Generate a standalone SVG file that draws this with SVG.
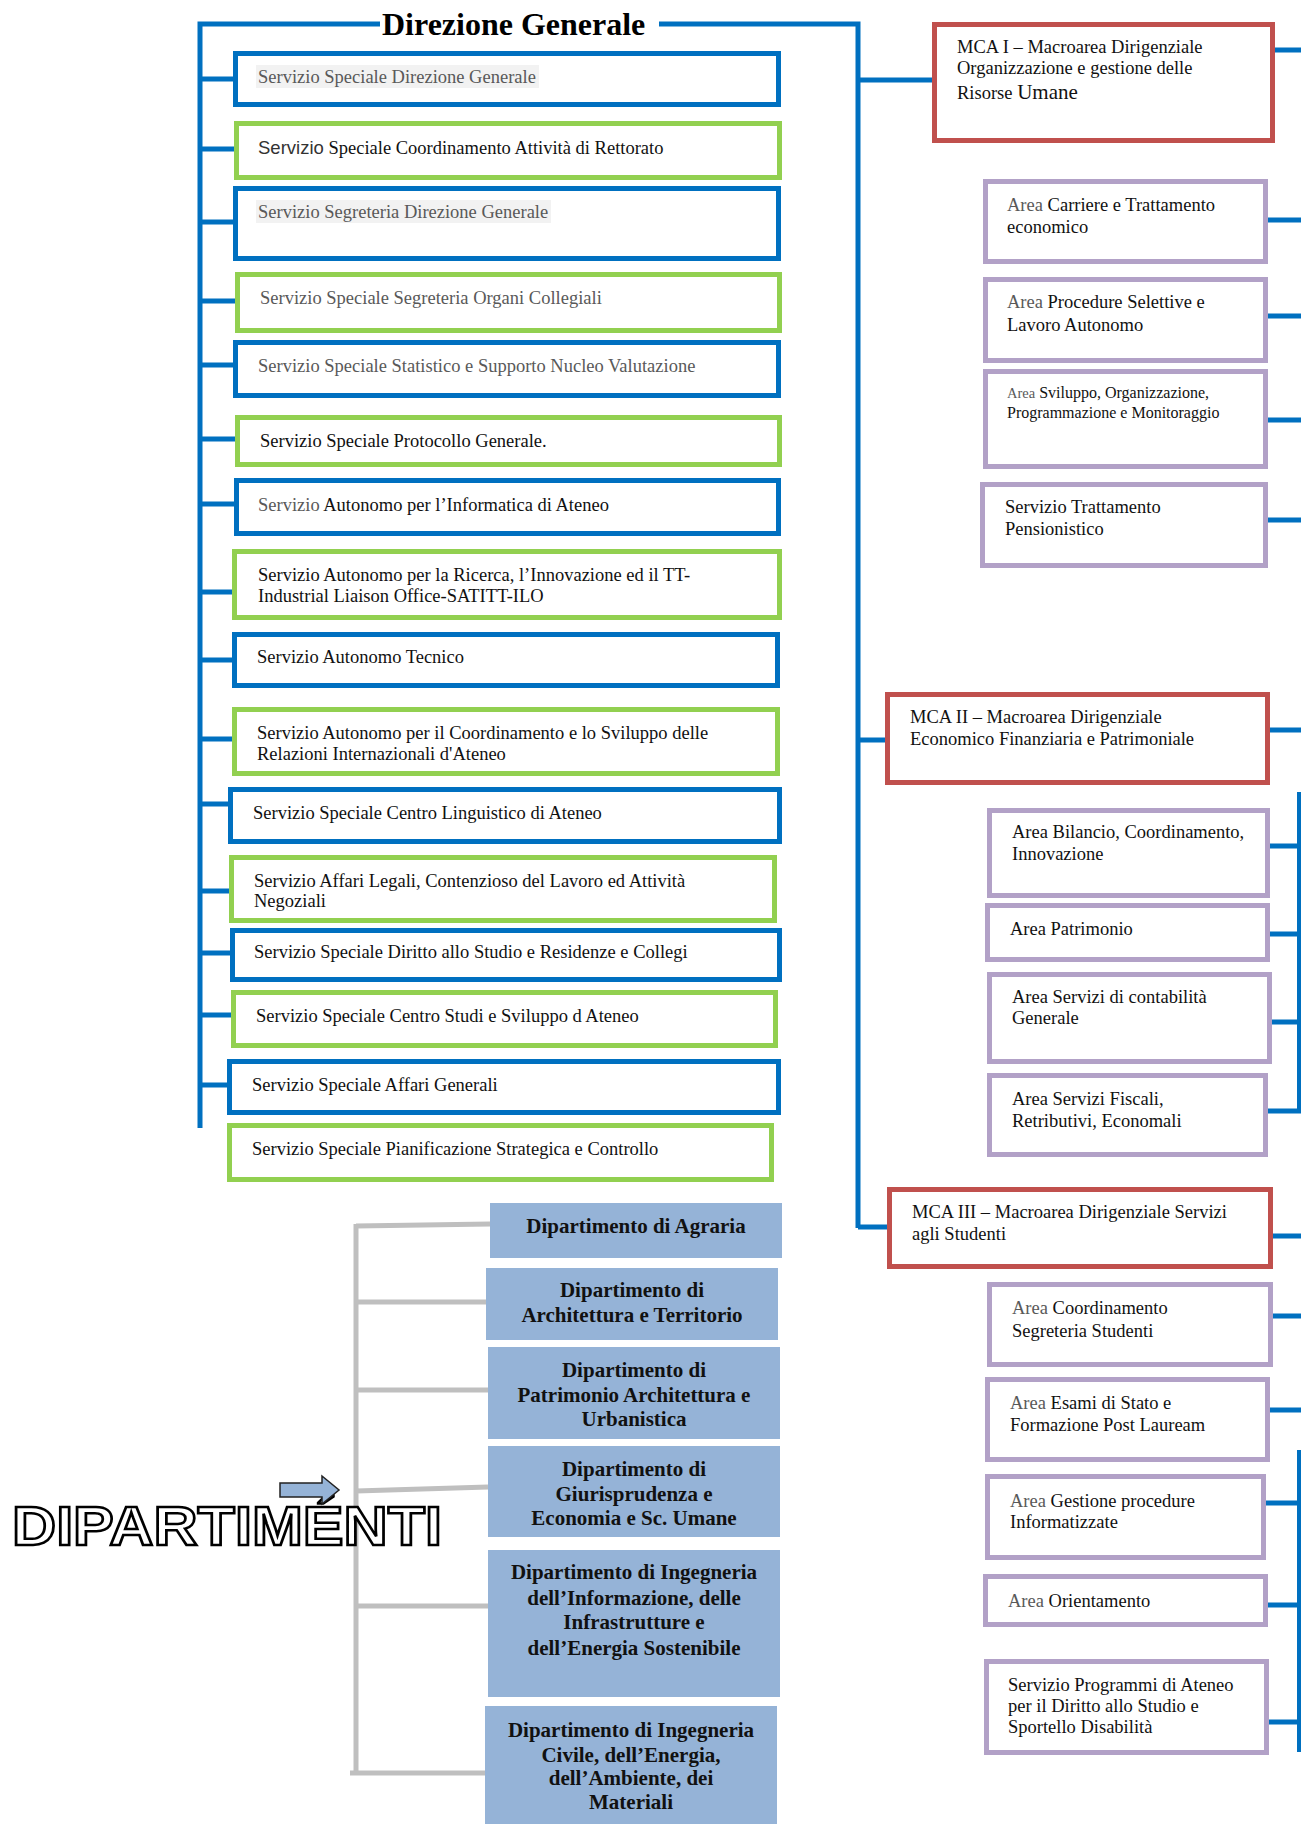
<svg xmlns="http://www.w3.org/2000/svg" width="1301" height="1824" viewBox="0 0 1301 1824">
<style>
.bx{fill:#fff;stroke-width:5}
.b{stroke:#0070c0}.g{stroke:#92d050}.r{stroke:#c0504d}.p{stroke:#b2a1c7}
.d{fill:#95b3d7}
.t{font-family:"Liberation Serif","Times New Roman",serif;font-size:18.5px;fill:#111}
.gr{fill:#595959}
.sans{font-family:"Liberation Sans",Arial,sans-serif;font-size:18.5px;fill:#333}
.dt{font-family:"Liberation Serif","Times New Roman",serif;font-weight:bold;font-size:21px;fill:#111;text-anchor:middle}
.c{stroke:#0070c0;stroke-width:5;fill:none}
.cv{stroke:#0070c0;stroke-width:4;fill:none}
.cg{stroke:#bfbfbf;stroke-width:5;fill:none}
.hl{fill:#f2f2f2}
</style>

<g id="connectors">
  <path class="c" d="M200,1128 V24 H380 M659,24 H858 V1228"/>
  <path class="c" d="M200,79 H233 M200,149 H234 M200,222 H233 M200,301 H235 M200,365 H233 M200,439 H235 M200,504 H234 M200,592 H232 M200,660 H232 M202,739 H232 M200,804 H228 M200,891 H229 M200,953 H230 M200,1015 H231 M200,1085 H227"/>
  <path class="c" d="M858,80 H932 M858,740 H885 M858,1227 H887"/>
  <path class="c" d="M1272,50 H1301 M1268,220 H1301 M1268,316 H1301 M1268,420 H1301 M1268,520 H1301"/>
  <path class="c" d="M1270,730 H1301 M1270,846 H1301 M1270,934 H1301 M1272,1022 H1301 M1268,1111 H1301"/>
  <path class="c" d="M1273,1236 H1301 M1273,1316 H1301 M1270,1410 H1301 M1266,1503 H1301 M1268,1605 H1301 M1269,1722 H1301"/>
  <path class="cv" d="M1299,792 V1113 M1299,1450 V1752"/>
  <path class="cg" d="M356,1224 V1773 M356,1226 L490,1224 M356,1302 H486 M356,1390 H488 M356,1491 L488,1487 M356,1606 H488 M350,1773 H485"/>
</g>

<g id="title">
  <text x="382" y="35" style="font-family:'Liberation Serif','Times New Roman',serif;font-weight:bold;font-size:32px;fill:#000">Direzione Generale</text>
</g>

<g id="s1"><rect class="bx b" x="235.5" y="53.5" width="543" height="51"/><rect class="hl" x="256" y="65" width="283" height="23"/><text class="t gr" x="258" y="83">Servizio Speciale Direzione Generale</text></g>
<g id="s2"><rect class="bx g" x="236.5" y="123.5" width="543" height="54"/><text class="t" x="258" y="154"><tspan class="sans">Servizio</tspan> Speciale Coordinamento Attività di Rettorato</text></g>
<g id="s3"><rect class="bx b" x="235.5" y="188.5" width="543" height="70"/><rect class="hl" x="256" y="200" width="295" height="23"/><text class="t gr" x="258" y="218">Servizio Segreteria Direzione Generale</text></g>
<g id="s4"><rect class="bx g" x="237.5" y="274.5" width="542" height="56"/><text class="t gr" x="260" y="304">Servizio Speciale Segreteria Organi Collegiali</text></g>
<g id="s5"><rect class="bx b" x="235.5" y="342.5" width="543" height="53"/><text class="t gr" x="258" y="372">Servizio Speciale Statistico e Supporto Nucleo Valutazione</text></g>
<g id="s6"><rect class="bx g" x="237.5" y="417.5" width="542" height="47"/><text class="t" x="260" y="447">Servizio Speciale Protocollo Generale.</text></g>
<g id="s7"><rect class="bx b" x="236.5" y="480.5" width="542" height="53"/><text class="t" x="258" y="511"><tspan class="gr">Servizio</tspan> Autonomo per l’Informatica di Ateneo</text></g>
<g id="s8"><rect class="bx g" x="234.5" y="551.5" width="545" height="66"/><text class="t" x="258" y="581">Servizio Autonomo per la Ricerca, l’Innovazione ed il TT-</text><text class="t" x="258" y="602">Industrial Liaison Office-SATITT-ILO</text></g>
<g id="s9"><rect class="bx b" x="234.5" y="634.5" width="543" height="51"/><text class="t" x="257" y="663">Servizio Autonomo Tecnico</text></g>
<g id="s10"><rect class="bx g" x="234.5" y="709.5" width="543" height="64"/><text class="t" x="257" y="739">Servizio Autonomo per il Coordinamento e lo Sviluppo delle</text><text class="t" x="257" y="760">Relazioni Internazionali d'Ateneo</text></g>
<g id="s11"><rect class="bx b" x="230.5" y="789.5" width="549" height="52"/><text class="t" x="253" y="819">Servizio Speciale Centro Linguistico di Ateneo</text></g>
<g id="s12"><rect class="bx g" x="231.5" y="857.5" width="543" height="63"/><text class="t" x="254" y="887">Servizio Affari Legali, Contenzioso del Lavoro ed Attività</text><text class="t" x="254" y="907">Negoziali</text></g>
<g id="s13"><rect class="bx b" x="232.5" y="930.5" width="547" height="49"/><text class="t" x="254" y="958">Servizio Speciale Diritto allo Studio e Residenze e Collegi</text></g>
<g id="s14"><rect class="bx g" x="233.5" y="992.5" width="542" height="53"/><text class="t" x="256" y="1022">Servizio Speciale Centro Studi e Sviluppo d Ateneo</text></g>
<g id="s15"><rect class="bx b" x="229.5" y="1061.5" width="549" height="51"/><text class="t" x="252" y="1091">Servizio Speciale Affari Generali</text></g>
<g id="s16"><rect class="bx g" x="229.5" y="1125.5" width="542" height="54"/><text class="t" x="252" y="1155">Servizio Speciale Pianificazione Strategica e Controllo</text></g>

<g id="mca1"><rect class="bx r" x="934.5" y="24.5" width="338" height="116"/><text class="t" x="957" y="53">MCA I – Macroarea Dirigenziale</text><text class="t" x="957" y="74">Organizzazione e gestione delle</text><text class="t" x="957" y="99">Risorse <tspan style="font-size:21px">Umane</tspan></text></g>
<g id="a1"><rect class="bx p" x="985.5" y="181.5" width="280" height="80"/><text class="t" x="1007" y="211"><tspan class="gr">Area</tspan> Carriere e Trattamento</text><text class="t" x="1007" y="233">economico</text></g>
<g id="a2"><rect class="bx p" x="985.5" y="279.5" width="280" height="81"/><text class="t" x="1007" y="308"><tspan class="gr">Area</tspan> Procedure Selettive e</text><text class="t" x="1007" y="331">Lavoro Autonomo</text></g>
<g id="a3"><rect class="bx p" x="985.5" y="371.5" width="280" height="95"/><text class="t" x="1007" y="398" style="font-size:16px"><tspan class="gr" style="font-size:14.5px">Area</tspan> Sviluppo, Organizzazione,</text><text class="t" x="1007" y="418" style="font-size:16px">Programmazione e Monitoraggio</text></g>
<g id="a4"><rect class="bx p" x="982.5" y="484.5" width="283" height="81"/><text class="t" x="1005" y="513">Servizio Trattamento</text><text class="t" x="1005" y="535">Pensionistico</text></g>

<g id="mca2"><rect class="bx r" x="887.5" y="694.5" width="380" height="88"/><text class="t" x="910" y="723">MCA II – Macroarea Dirigenziale</text><text class="t" x="910" y="745">Economico Finanziaria e Patrimoniale</text></g>
<g id="b1"><rect class="bx p" x="989.5" y="810.5" width="278" height="85"/><text class="t" x="1012" y="838">Area Bilancio, Coordinamento,</text><text class="t" x="1012" y="860">Innovazione</text></g>
<g id="b2"><rect class="bx p" x="987.5" y="905.5" width="280" height="54"/><text class="t" x="1010" y="935">Area Patrimonio</text></g>
<g id="b3"><rect class="bx p" x="989.5" y="974.5" width="280" height="87"/><text class="t" x="1012" y="1003">Area Servizi di contabilità</text><text class="t" x="1012" y="1024">Generale</text></g>
<g id="b4"><rect class="bx p" x="989.5" y="1075.5" width="276" height="79"/><text class="t" x="1012" y="1105">Area Servizi Fiscali,</text><text class="t" x="1012" y="1127">Retributivi, Economali</text></g>

<g id="mca3"><rect class="bx r" x="889.5" y="1189.5" width="381" height="77"/><text class="t" x="912" y="1218">MCA III – Macroarea Dirigenziale Servizi</text><text class="t" x="912" y="1240">agli Studenti</text></g>
<g id="c1"><rect class="bx p" x="989.5" y="1284.5" width="281" height="80"/><text class="t" x="1012" y="1314"><tspan class="gr">Area</tspan> Coordinamento</text><text class="t" x="1012" y="1337">Segreteria Studenti</text></g>
<g id="c2"><rect class="bx p" x="987.5" y="1379.5" width="280" height="80"/><text class="t" x="1010" y="1409"><tspan class="gr">Area</tspan> Esami di Stato e</text><text class="t" x="1010" y="1431">Formazione Post Lauream</text></g>
<g id="c3"><rect class="bx p" x="987.5" y="1476.5" width="276" height="81"/><text class="t" x="1010" y="1507"><tspan class="gr">Area</tspan> Gestione procedure</text><text class="t" x="1010" y="1528">Informatizzate</text></g>
<g id="c4"><rect class="bx p" x="985.5" y="1576.5" width="280" height="48"/><text class="t" x="1008" y="1607"><tspan class="gr">Area</tspan> Orientamento</text></g>
<g id="c5"><rect class="bx p" x="986.5" y="1661.5" width="280" height="91"/><text class="t" x="1008" y="1691">Servizio Programmi di Ateneo</text><text class="t" x="1008" y="1712">per il Diritto allo Studio e</text><text class="t" x="1008" y="1733">Sportello Disabilità</text></g>

<g id="dipartimenti-label">
  <text x="12" y="1545" textLength="430" lengthAdjust="spacingAndGlyphs" style="font-family:'Liberation Sans',Arial,sans-serif;font-weight:bold;font-size:55px;fill:#fff;stroke:#000;stroke-width:2.5">DIPARTIMÉNTI</text>
  <polygon points="280,1483 322,1483 322,1476 339,1490 322,1504 322,1497 280,1497" fill="#95b3d7" stroke="#222" stroke-width="1.5"/>
</g>

<g id="d1"><rect class="d" x="490" y="1203" width="292" height="55"/><text class="dt" x="636" y="1233">Dipartimento di Agraria</text></g>
<g id="d2"><rect class="d" x="486" y="1268" width="292" height="72"/><text class="dt" x="632" y="1297">Dipartimento di</text><text class="dt" x="632" y="1322">Architettura e Territorio</text></g>
<g id="d3"><rect class="d" x="488" y="1347" width="292" height="92"/><text class="dt" x="634" y="1377">Dipartimento di</text><text class="dt" x="634" y="1402">Patrimonio Architettura e</text><text class="dt" x="634" y="1426">Urbanistica</text></g>
<g id="d4"><rect class="d" x="488" y="1446" width="292" height="91"/><text class="dt" x="634" y="1476">Dipartimento di</text><text class="dt" x="634" y="1501">Giurisprudenza e</text><text class="dt" x="634" y="1525">Economia e Sc. Umane</text></g>
<g id="d5"><rect class="d" x="488" y="1550" width="292" height="147"/><text class="dt" x="634" y="1579">Dipartimento di Ingegneria</text><text class="dt" x="634" y="1605">dell’Informazione, delle</text><text class="dt" x="634" y="1629">Infrastrutture e</text><text class="dt" x="634" y="1655">dell’Energia Sostenibile</text></g>
<g id="d6"><rect class="d" x="485" y="1706" width="292" height="118"/><text class="dt" x="631" y="1737">Dipartimento di Ingegneria</text><text class="dt" x="631" y="1762">Civile, dell’Energia,</text><text class="dt" x="631" y="1785">dell’Ambiente, dei</text><text class="dt" x="631" y="1809">Materiali</text></g>
</svg>
